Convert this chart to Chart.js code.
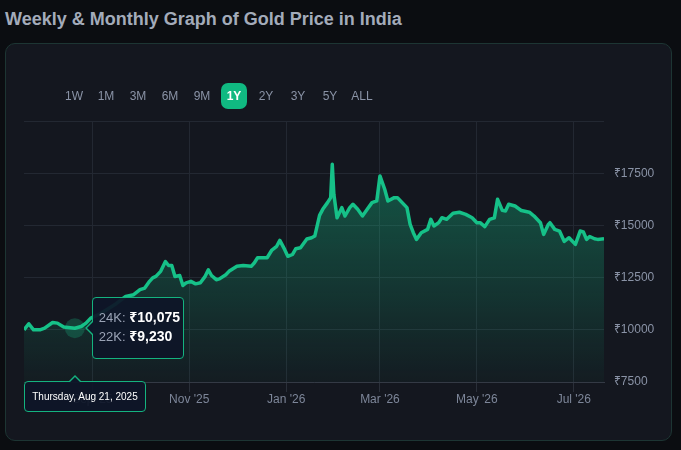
<!DOCTYPE html>
<html>
<head>
<meta charset="utf-8">
<title>Gold Price in India</title>
<script src="https://cdn.jsdelivr.net/npm/chart.js@4.4.1/dist/chart.umd.min.js"></script>
<style>
  html, body { margin: 0; padding: 0; }
  body {
    width: 681px; height: 450px; overflow: hidden; position: relative;
    background: #0b0d11;
    font-family: Arial, "Liberation Sans", "Noto Sans", sans-serif;
  }
  h2 {
    position: absolute; left: 5px; top: 9px; margin: 0;
    font-size: 18px; line-height: 20px; font-weight: bold; color: #a3abba;
  }
  .card {
    position: absolute; left: 5px; top: 43px; width: 665px; height: 396px;
    background: #14171f; border: 1px solid #1d3533; border-radius: 10px;
  }
  .ranges { position: absolute; left: 61px; top: 83px; display: flex; z-index: 3; }
  .ranges span {
    width: 26px; height: 26px; margin-right: 6px; line-height: 26px; text-align: center;
    font-size: 12px; color: #8a93a6; border-radius: 7px;
  }
  .ranges span.active { background: #10b981; color: #fff; font-weight: bold; }
  .chart-box { position: absolute; left: 0; top: 0; width: 681px; height: 450px; z-index: 2; }
  .tip {
    position: absolute; display: none; z-index: 4; box-sizing: border-box;
    background: rgba(14, 22, 40, 0.93); border: 1px solid #14b37f; border-radius: 4px;
  }
  #valueTip { width: 92px; height: 62px; padding: 10px 0 0 6px; font-size: 13px; line-height: 19px; color: #fff; }
  #valueTip .k { color: #9aa3b5; }
  #valueTip b { font-weight: bold; font-size: 14px; }
  #valueTip::before, #valueTip::after {
    content: ""; position: absolute; top: 50%; width: 0; height: 0;
    border-top: 7px solid transparent; border-bottom: 7px solid transparent;
  }
  #valueTip::before { left: -8px; margin-top: -7px; border-right: 7px solid #14b37f; }
  #valueTip::after { left: -6px; margin-top: -6px; border-top-width: 6px; border-bottom-width: 6px; border-right: 6px solid #0e1628; }
  #dateTip { width: 122px; height: 31px; line-height: 29px; text-align: center; font-size: 10px; color: #fff; }
  #dateTip i, #dateTip em {
    position: absolute; width: 0; height: 0;
    border-left: 6px solid transparent; border-right: 6px solid transparent;
  }
  #dateTip i { top: -7px; margin-left: -6px; border-bottom: 6px solid #14b37f; }
  #dateTip em { top: -5px; margin-left: -5px; border-left-width: 5px; border-right-width: 5px; border-bottom: 5px solid #0e1628; }
</style>
</head>
<body>
<h2>Weekly &amp; Monthly Graph of Gold Price in India</h2>
<div class="card"></div>
<div class="ranges">
  <span>1W</span><span>1M</span><span>3M</span><span>6M</span><span>9M</span>
  <span class="active">1Y</span><span>2Y</span><span>3Y</span><span>5Y</span><span>ALL</span>
</div>
<div class="chart-box"><canvas id="goldChart"></canvas></div>
<div class="tip" id="valueTip"></div>
<div class="tip" id="dateTip"></div>

<script>
// days counted from Jul 20, 2025
const startDate = [2025, 6, 20];
const lastDay = 365;

const days = [
  0, 3, 6, 10, 13, 18, 21, 25, 32, 36, 39, 42, 48, 53, 58, 64, 69, 73, 76, 79,
  81, 83, 86, 89, 91, 93, 95, 98, 100, 102, 105, 108, 111, 114, 116, 118, 121, 123, 127, 129,
  134, 138, 143, 145, 147, 151, 153, 156, 159, 161, 164, 166, 169, 171, 174, 178, 181, 183, 186, 188,
  191, 193, 194, 195, 197, 200, 202, 205, 207, 210, 213, 216, 219, 222, 224, 227, 229, 233, 235, 238,
  241, 243, 245, 247, 250, 254, 256, 258, 261, 263, 266, 270, 274, 278, 282, 285, 287, 290, 293, 296,
  298, 301, 303, 305, 309, 313, 318, 321, 325, 327, 330, 331, 334, 337, 340, 343, 347, 350, 352, 354,
  356, 359, 361, 365
];

const price24k = [
  10000, 10290, 10000, 10000, 10080, 10350, 10320, 10130, 10075, 10160, 10320, 10560, 10770, 11010, 11250, 11600, 11680, 11920, 12000, 12320,
  12490, 12560, 12800, 13270, 13080, 13080, 12550, 12600, 12120, 12250, 12320, 12200, 12250, 12560, 12870, 12600, 12400, 12440, 12640, 12800,
  13040, 13080, 13040, 13210, 13450, 13450, 13450, 13820, 14000, 14280, 13850, 13520, 13610, 13880, 13930, 14350, 14410, 14490, 15480, 15770,
  16090, 16330, 17930, 16490, 15370, 15850, 15450, 15850, 16010, 15770, 15450, 15770, 16090, 16170, 17370, 16730, 16170, 16330, 16330, 16090,
  15850, 15050, 14650, 14330, 14650, 14810, 15290, 14970, 15130, 15370, 15290, 15580, 15630, 15530, 15370, 15130, 15130, 14940, 15290, 15360,
  16250, 15720, 15690, 16010, 15930, 15710, 15630, 15450, 15130, 14570, 15050, 15130, 14810, 14730, 14230, 14410, 14090, 14730, 14690, 14330,
  14470, 14360, 14330, 14360
];

const monthDays = [43, 104, 165, 224, 285, 346];
const monthLabels = ["Sep '25", "Nov '25", "Jan '26", "Mar '26", "May '26", "Jul '26"];
const priceTicks = [7500, 10000, 12500, 15000, 17500, 20000];

// hovered point shown in the tooltip
const hoverDay = 32;
const hoverPrice22k = 9230;

const weekDayNames = ["Sunday", "Monday", "Tuesday", "Wednesday", "Thursday", "Friday", "Saturday"];
const monthNames = ["Jan", "Feb", "Mar", "Apr", "May", "Jun", "Jul", "Aug", "Sep", "Oct", "Nov", "Dec"];

function dayToText(d) {
  const dt = new Date(startDate[0], startDate[1], startDate[2] + d);
  return weekDayNames[dt.getDay()] + ", " + monthNames[dt.getMonth()] + " " + dt.getDate() + ", " + dt.getFullYear();
}

function rupees(v) {
  return "\u20B9" + v.toLocaleString("en-IN");
}

function externalTooltip(context) {
  const { chart, tooltip } = context;
  const valueTip = document.getElementById("valueTip");
  const dateTip = document.getElementById("dateTip");
  if (tooltip.opacity === 0 || !tooltip.dataPoints || !tooltip.dataPoints.length) {
    valueTip.style.display = "none";
    dateTip.style.display = "none";
    return;
  }
  const point = tooltip.dataPoints[0];
  const x = tooltip.caretX;
  const y = tooltip.caretY;

  valueTip.innerHTML =
    '<div><span class="k">24K: </span><b>' + rupees(point.raw.y) + "</b></div>" +
    '<div><span class="k">22K: </span><b>' + rupees(hoverPrice22k) + "</b></div>";
  valueTip.style.display = "block";
  valueTip.style.left = (x + 17) + "px";
  valueTip.style.top = (y - 31) + "px";

  const area = chart.chartArea;
  const boxLeft = Math.max(area.left, x - 61);
  dateTip.innerHTML = "<i></i><em></em>" + dayToText(point.raw.x);
  dateTip.style.display = "block";
  dateTip.style.left = boxLeft + "px";
  dateTip.style.top = (area.bottom - 1) + "px";
  dateTip.querySelector("i").style.left = (x - boxLeft - 1) + "px";
  dateTip.querySelector("em").style.left = (x - boxLeft - 1) + "px";
}

Chart.defaults.font.family = 'Arial, "Liberation Sans", "Noto Sans", sans-serif';

const ctx = document.getElementById("goldChart").getContext("2d");
const goldChart = new Chart(ctx, {
  type: "line",
  data: {
    datasets: [
      {
        label: "24K",
        data: days.map((d, i) => ({ x: d, y: price24k[i] })),
        borderColor: "#16c188",
        borderWidth: 3.5,
        borderJoinStyle: "round",
        tension: 0,
        fill: "start",
        backgroundColor: (c) => {
          const area = c.chart.chartArea;
          if (!area) return "rgba(22, 193, 136, 0.2)";
          const g = c.chart.ctx.createLinearGradient(0, area.top, 0, area.bottom);
          g.addColorStop(0, "rgba(22, 193, 136, 0.45)");
          g.addColorStop(1, "rgba(22, 193, 136, 0.03)");
          return g;
        },
        pointRadius: 0,
        pointHoverRadius: 10,
        pointHoverBorderWidth: 0,
        pointHoverBackgroundColor: "rgba(22, 193, 136, 0.25)",
      },
    ],
  },
  options: {
    responsive: true,
    maintainAspectRatio: false,
    animation: false,
    interaction: { mode: "index", intersect: false },
    layout: { padding: { left: 24, top: 121, right: 0, bottom: 0 } },
    plugins: {
      legend: { display: false },
      tooltip: { enabled: false, external: externalTooltip },
    },
    scales: {
      x: {
        type: "linear",
        min: 0,
        max: lastDay,
        afterBuildTicks: (scale) => {
          scale.ticks = monthDays.map((v) => ({ value: v }));
        },
        afterFit: (scale) => { scale.height = 68; },
        ticks: {
          autoSkip: false,
          maxRotation: 0,
          padding: 0,
          color: "#7d8699",
          font: { size: 12 },
          callback: (v) => monthLabels[monthDays.indexOf(v)],
        },
        grid: { color: "#232832", tickLength: 10, tickColor: "#2a2f39" },
        border: { color: "#343a45" },
      },
      y: {
        position: "right",
        min: priceTicks[0],
        max: priceTicks[priceTicks.length - 1],
        afterBuildTicks: (scale) => {
          scale.ticks = priceTicks.map((v) => ({ value: v }));
        },
        afterFit: (scale) => { scale.width = 77; },
        ticks: {
          padding: 10,
          color: "#8a93a6",
          font: { size: 12 },
          callback: (v) => (v === 20000 ? "" : "\u20B9" + v),
        },
        grid: { color: "#232832", drawTicks: false },
        border: { display: false },
      },
    },
  },
});

const hoverIndex = days.indexOf(hoverDay);
goldChart.setActiveElements([{ datasetIndex: 0, index: hoverIndex }]);
goldChart.tooltip.setActiveElements([{ datasetIndex: 0, index: hoverIndex }], { x: 0, y: 0 });
goldChart.update();
</script>
</body>
</html>
